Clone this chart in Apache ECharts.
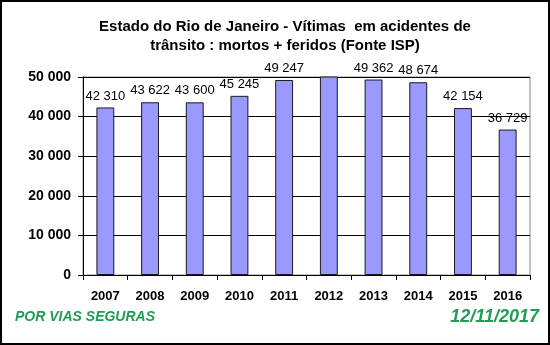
<!DOCTYPE html>
<html>
<head>
<meta charset="utf-8">
<script src="https://cdn.jsdelivr.net/npm/echarts@6/dist/echarts.min.js"></script>
<style>
  html, body { margin: 0; padding: 0; background: #fff; }
  #chart { width: 550px; height: 345px; box-sizing: border-box; border: 2px solid #000; }
</style>
</head>
<body>
<div id="chart"></div>
<script>
// Victims of road accidents in the state of Rio de Janeiro (deaths + injured), ISP source
const years = ['2007', '2008', '2009', '2010', '2011', '2012', '2013', '2014', '2015', '2016'];
const victims = [42310, 43622, 43600, 45245, 49247, 50600, 49362, 48674, 42154, 36729];
// 2012 runs past the top of the scale, so its label stays hidden
const hiddenLabelYears = ['2012'];
const yTicks = [0, 10000, 20000, 30000, 40000, 50000];

const fmt = v => String(v).replace(/\B(?=(\d{3})+(?!\d))/g, ' ');

const chart = echarts.init(document.getElementById('chart'), null, { renderer: 'canvas' });

chart.setOption({
  animation: false,
  backgroundColor: '#fff',
  title: {
    text: 'Estado do Rio de Janeiro - Vítimas  em acidentes de\ntrânsito : mortos + feridos (Fonte ISP)',
    left: 278,
    top: 10,
    textAlign: 'center',
    textStyle: { fontFamily: 'Liberation Sans', fontSize: 15, fontWeight: 'bold', color: '#000', lineHeight: 19 }
  },
  graphic: [
    {
      type: 'rect',
      shape: { x: 81, y: 75, width: 447, height: 198 },
      style: { fill: 'none', stroke: '#8c8c8c', lineWidth: 1 },
      z: 0
    },
    {
      type: 'text',
      left: 13, top: 308,
      style: { text: 'POR VIAS SEGURAS', fill: '#1f9d55', font: 'italic bold 14px "Liberation Sans"' }
    },
    {
      type: 'text',
      right: 9, top: 306,
      style: { text: '12/11/2017', fill: '#1f9d55', font: 'italic bold 18px "Liberation Sans"' }
    }
  ],
  grid: { left: 81, right: 18, top: 75, bottom: 68 },
  xAxis: {
    type: 'category',
    data: years,
    axisLine: { lineStyle: { color: '#000', width: 1 } },
    axisTick: { show: true, alignWithLabel: false, length: 5, lineStyle: { color: '#000' } },
    axisLabel: { fontFamily: 'Liberation Sans', fontSize: 13, fontWeight: 'bold', color: '#000', margin: 15 }
  },
  yAxis: {
    type: 'value',
    min: yTicks[0],
    max: yTicks[yTicks.length - 1],
    interval: yTicks[1] - yTicks[0],
    axisLine: { show: true, lineStyle: { color: '#000', width: 1 } },
    axisTick: { show: true, length: 5, lineStyle: { color: '#000' } },
    splitLine: { lineStyle: { color: '#000', width: 1 } },
    axisLabel: { fontFamily: 'Liberation Sans', fontSize: 14, fontWeight: 'bold', color: '#000', margin: 12, formatter: fmt }
  },
  series: [{
    type: 'bar',
    barWidth: '40%',
    clip: true,
    data: victims.map((v, i) => ({
      value: v,
      label: { show: !hiddenLabelYears.includes(years[i]) }
    })),
    itemStyle: { color: '#9999ff', borderColor: '#1a1a1a', borderWidth: 1 },
    label: {
      show: true,
      position: 'top',
      distance: 5,
      fontFamily: 'Liberation Sans',
      fontSize: 13,
      color: '#000',
      formatter: p => fmt(p.value)
    }
  }]
});
</script>
</body>
</html>
